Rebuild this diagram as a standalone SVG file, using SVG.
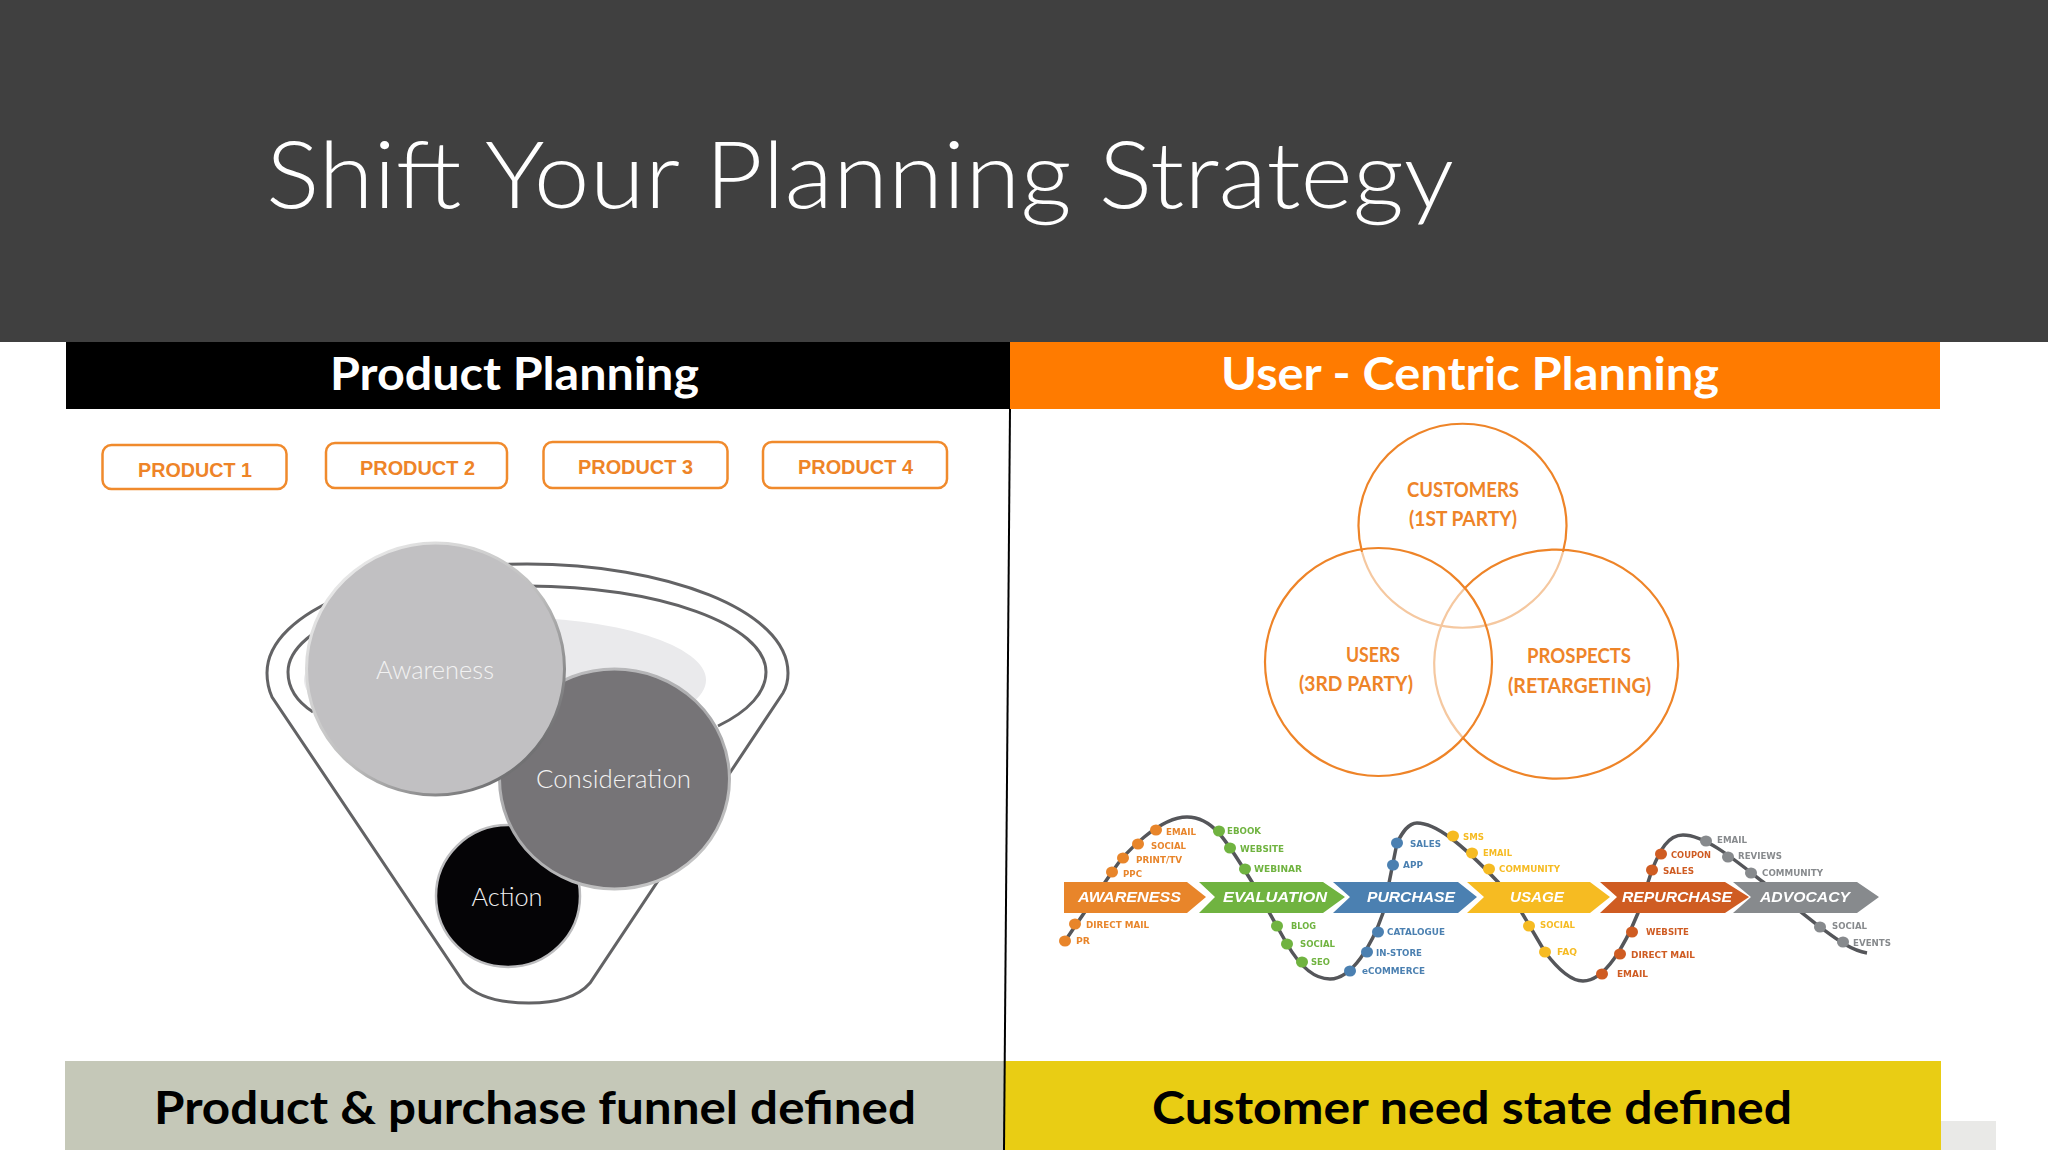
<svg xmlns="http://www.w3.org/2000/svg" width="2048" height="1152" viewBox="0 0 2048 1152">
<style>
text{font-family:"Lato","Liberation Sans",sans-serif}
.h{font-weight:700;font-size:46px;fill:#fff}
.b{font-weight:700;font-size:46px;fill:#000}
.p{font-family:"Liberation Sans",Arial,sans-serif;font-weight:700;font-size:20px;fill:#ee8428}
.btn{fill:#fff;stroke:#f08a2c;stroke-width:2.5}
.v{font-weight:700;font-size:21px;fill:#ee8428}
.vs{fill:none;stroke:#ee8428;stroke-width:2.2}
.vp{fill:none;stroke:#f5c8a0;stroke-width:2.2}
.f{fill:none;stroke:#636365;stroke-width:3}
.c{font-weight:300;fill:#f2f2f2}
.a{font-family:"Liberation Sans",Arial,sans-serif;font-weight:700;font-style:italic;font-size:15px;fill:#fff}
.l{font-family:"DejaVu Sans",sans-serif;font-weight:700;font-size:8.5px}
.or{fill:#e8852c}.gr{fill:#6fb33f}.bl{fill:#4b80b1}.ye{fill:#f6bb24}.rd{fill:#cf5b23}.gy{fill:#878a8d}
</style>
<defs>
<linearGradient id="edge" x1="0.15" y1="0.1" x2="0.9" y2="0.9"><stop offset="0" stop-color="#e8e8e8"/><stop offset="0.55" stop-color="#bbbbbb"/><stop offset="1" stop-color="#666668"/></linearGradient>
<linearGradient id="edge2" x1="0.2" y1="0" x2="0.8" y2="1"><stop offset="0" stop-color="#bdbdbf"/><stop offset="0.5" stop-color="#a9a9ab"/><stop offset="1" stop-color="#c8c8c8"/></linearGradient>
<filter id="soft" x="-5%" y="-5%" width="110%" height="110%"><feGaussianBlur stdDeviation="0.45"/></filter>
</defs>
<rect width="2048" height="1152" fill="#fff"/>
<g id="title-band"><rect width="2048" height="342" fill="#404040"/>
<text x="266" y="208" font-size="92" font-weight="300" fill="#fff" textLength="1188" lengthAdjust="spacingAndGlyphs">Shift Your Planning Strategy</text></g>
<g id="header-product"><rect x="66" y="342" width="944" height="67" fill="#000"/><text class="h" x="330" y="390" textLength="369" lengthAdjust="spacingAndGlyphs">Product Planning</text></g>
<g id="header-user"><rect x="1010" y="342" width="930" height="67" fill="#ff7b00"/><text class="h" x="1221" y="390" textLength="498" lengthAdjust="spacingAndGlyphs">User - Centric Planning</text></g>
<rect x="1940" y="1121" width="56" height="29" fill="#e9e9e7"/>
<g id="footer-product"><rect x="65" y="1061" width="939" height="89" fill="#c5c8b8"/><text class="b" x="154" y="1124" textLength="762" lengthAdjust="spacingAndGlyphs">Product &amp; purchase funnel defined</text></g>
<g id="footer-user"><rect x="1004" y="1061" width="937" height="89" fill="#e9cd14"/><text class="b" x="1152" y="1124" textLength="640" lengthAdjust="spacingAndGlyphs">Customer need state defined</text></g>
<g id="product-1"><rect class="btn" x="102.500" y="445" width="184" height="44" rx="9"/><text class="p" x="138" y="477" textLength="114" lengthAdjust="spacingAndGlyphs">PRODUCT 1</text></g>
<g id="product-2"><rect class="btn" x="326" y="443" width="181" height="45" rx="9"/><text class="p" x="360" y="475" textLength="115" lengthAdjust="spacingAndGlyphs">PRODUCT 2</text></g>
<g id="product-3"><rect class="btn" x="543.500" y="442" width="184" height="46" rx="9"/><text class="p" x="578" y="474" textLength="115" lengthAdjust="spacingAndGlyphs">PRODUCT 3</text></g>
<g id="product-4"><rect class="btn" x="763" y="442" width="184" height="46" rx="9"/><text class="p" x="798" y="474" textLength="115" lengthAdjust="spacingAndGlyphs">PRODUCT 4</text></g>
<g id="funnel">
<ellipse cx="505" cy="680" rx="201" ry="63" fill="#eaeaec"/>
<path class="f" d="M313 712C296 701 288 687 288 672C288 625 395 586 527 586C659 586 766 625 766 672C766 692 749 711 718 726"/>
<path class="f" d="M272 697C268 688 267 680 267 673C267 610 390 564 527 564C665 564 788 610 788 673C788 680 786 688 783 693L590 983C577 998 553 1003 529 1003C503 1003 478 998 464 983Z"/>
</g>
<g id="action"><ellipse cx="508" cy="896" rx="72" ry="71" fill="#050406" stroke="#bdbdbf" stroke-width="2.500"/><text class="c" x="471.500" y="906" font-size="26" textLength="71" lengthAdjust="spacingAndGlyphs">Action</text></g>
<g id="consideration"><ellipse cx="614.500" cy="779" rx="115" ry="110" fill="#767477" stroke="url(#edge2)" stroke-width="3"/><text class="c" x="536" y="788" font-size="26" textLength="155" lengthAdjust="spacingAndGlyphs">Consideration</text></g>
<g id="awareness"><ellipse cx="435.500" cy="669" rx="129" ry="126" fill="#c1c0c2" stroke="url(#edge)" stroke-width="3"/><text class="c" x="376" y="679" font-size="25" textLength="118" lengthAdjust="spacingAndGlyphs">Awareness</text></g>
<g id="venn-customers"><path class="vs" d="M1362 552A104 102 0 1 1 1563 552"/><path class="vp" d="M1362 552A104 102 0 0 0 1563 552"/><text class="v" x="1407" y="497" textLength="112" lengthAdjust="spacingAndGlyphs">CUSTOMERS</text><text class="v" x="1409" y="526" textLength="108" lengthAdjust="spacingAndGlyphs">(1ST PARTY)</text></g>
<g id="venn-prospects"><path class="vs" d="M1465 588A122 114.500 0 1 1 1463 738"/><path class="vp" d="M1465 588A122 114.500 0 0 0 1463 738"/><text class="v" x="1527" y="663" textLength="104" lengthAdjust="spacingAndGlyphs">PROSPECTS</text><text class="v" x="1508" y="693" textLength="143" lengthAdjust="spacingAndGlyphs">(RETARGETING)</text></g>
<g id="venn-users"><ellipse class="vs" cx="1378.500" cy="662" rx="113.500" ry="114"/><text class="v" x="1346" y="662" textLength="54" lengthAdjust="spacingAndGlyphs">USERS</text><text class="v" x="1299" y="691" textLength="114" lengthAdjust="spacingAndGlyphs">(3RD PARTY)</text></g>
<g id="connectors" fill="none">
<path stroke="#000" stroke-width="2" d="M1010 409L1004 1150"/>
<path filter="url(#soft)" stroke="#54565a" stroke-width="3.500" d="M1065 941L1112 872C1125 852 1160 817 1187 817C1212 817 1225 838 1252 882L1287 944C1298 963 1312 979 1330 979C1352 979 1372 945 1383 913L1397 843C1402 833 1408 823 1417 823C1435 823 1460 842 1498 882L1522 913L1545 952C1557 968 1570 981 1583 981C1605 981 1625 945 1638 913L1652 870C1660 850 1668 835 1683 835C1705 835 1735 860 1763 882L1820 927C1835 938 1850 950 1867 953"/>
</g>
<g id="journey" filter="url(#soft)">
<g id="stage-awareness" class="or"><polygon points="1064,882 1187,882 1206,897 1187,913 1064,913"/><text class="a" x="1078" y="902" textLength="103" lengthAdjust="spacingAndGlyphs">AWARENESS</text>
<ellipse cx="1065" cy="941" rx="6" ry="5.500"/><ellipse cx="1075" cy="924" rx="6" ry="5.500"/><ellipse cx="1112" cy="872" rx="6" ry="5.500"/><ellipse cx="1123" cy="858" rx="6" ry="5.500"/><ellipse cx="1138" cy="844" rx="6" ry="5.500"/><ellipse cx="1156" cy="830" rx="6" ry="5.500"/>
<text class="l" x="1166" y="835" textLength="30" lengthAdjust="spacingAndGlyphs">EMAIL</text><text class="l" x="1151" y="849" textLength="35" lengthAdjust="spacingAndGlyphs">SOCIAL</text><text class="l" x="1136" y="863" textLength="46" lengthAdjust="spacingAndGlyphs">PRINT/TV</text><text class="l" x="1123" y="877" textLength="19" lengthAdjust="spacingAndGlyphs">PPC</text><text class="l" x="1086" y="928" textLength="63" lengthAdjust="spacingAndGlyphs">DIRECT MAIL</text><text class="l" x="1076" y="944" textLength="14" lengthAdjust="spacingAndGlyphs">PR</text></g>
<g id="stage-evaluation" class="gr"><polygon points="1199,882 1323,882 1345,897 1323,913 1199,913 1215,897"/><text class="a" x="1223" y="902" textLength="104" lengthAdjust="spacingAndGlyphs">EVALUATION</text>
<ellipse cx="1219" cy="831" rx="6" ry="5.500"/><ellipse cx="1230" cy="848" rx="6" ry="5.500"/><ellipse cx="1245" cy="869" rx="6" ry="5.500"/><ellipse cx="1277" cy="926" rx="6" ry="5.500"/><ellipse cx="1287" cy="944" rx="6" ry="5.500"/><ellipse cx="1302" cy="962" rx="6" ry="5.500"/>
<text class="l" x="1227" y="834" textLength="34" lengthAdjust="spacingAndGlyphs">EBOOK</text><text class="l" x="1240" y="852" textLength="44" lengthAdjust="spacingAndGlyphs">WEBSITE</text><text class="l" x="1254" y="872" textLength="48" lengthAdjust="spacingAndGlyphs">WEBINAR</text><text class="l" x="1291" y="929" textLength="25" lengthAdjust="spacingAndGlyphs">BLOG</text><text class="l" x="1300" y="947" textLength="35" lengthAdjust="spacingAndGlyphs">SOCIAL</text><text class="l" x="1311" y="965" textLength="19" lengthAdjust="spacingAndGlyphs">SEO</text></g>
<g id="stage-purchase" class="bl"><polygon points="1333,882 1458,882 1477,897 1458,913 1333,913 1350,897"/><text class="a" x="1367" y="902" textLength="88" lengthAdjust="spacingAndGlyphs">PURCHASE</text>
<ellipse cx="1397" cy="843" rx="6" ry="5.500"/><ellipse cx="1393" cy="865" rx="6" ry="5.500"/><ellipse cx="1378" cy="932" rx="6" ry="5.500"/><ellipse cx="1367" cy="952" rx="6" ry="5.500"/><ellipse cx="1350" cy="971" rx="6" ry="5.500"/>
<text class="l" x="1410" y="847" textLength="31" lengthAdjust="spacingAndGlyphs">SALES</text><text class="l" x="1403" y="868" textLength="20" lengthAdjust="spacingAndGlyphs">APP</text><text class="l" x="1387" y="935" textLength="58" lengthAdjust="spacingAndGlyphs">CATALOGUE</text><text class="l" x="1376" y="956" textLength="46" lengthAdjust="spacingAndGlyphs">IN-STORE</text><text class="l" x="1362" y="974" textLength="63" lengthAdjust="spacingAndGlyphs">eCOMMERCE</text></g>
<g id="stage-usage" class="ye"><polygon points="1467,882 1590,882 1610,897 1590,913 1467,913 1484,897"/><text class="a" x="1510" y="902" textLength="54" lengthAdjust="spacingAndGlyphs">USAGE</text>
<ellipse cx="1453" cy="836" rx="6" ry="5.500"/><ellipse cx="1472" cy="853" rx="6" ry="5.500"/><ellipse cx="1489" cy="869" rx="6" ry="5.500"/><ellipse cx="1529" cy="926" rx="6" ry="5.500"/><ellipse cx="1545" cy="952" rx="6" ry="5.500"/>
<text class="l" x="1463" y="840" textLength="21" lengthAdjust="spacingAndGlyphs">SMS</text><text class="l" x="1483" y="856" textLength="29" lengthAdjust="spacingAndGlyphs">EMAIL</text><text class="l" x="1499" y="872" textLength="61" lengthAdjust="spacingAndGlyphs">COMMUNITY</text><text class="l" x="1540" y="928" textLength="35" lengthAdjust="spacingAndGlyphs">SOCIAL</text><text class="l" x="1557" y="955" textLength="20" lengthAdjust="spacingAndGlyphs">FAQ</text></g>
<g id="stage-repurchase" class="rd"><polygon points="1600,882 1725,882 1749,897 1725,913 1600,913 1617,897"/><text class="a" x="1622" y="902" textLength="110" lengthAdjust="spacingAndGlyphs">REPURCHASE</text>
<ellipse cx="1661" cy="854" rx="6" ry="5.500"/><ellipse cx="1652" cy="870" rx="6" ry="5.500"/><ellipse cx="1632" cy="932" rx="6" ry="5.500"/><ellipse cx="1620" cy="954" rx="6" ry="5.500"/><ellipse cx="1602" cy="974" rx="6" ry="5.500"/>
<text class="l" x="1671" y="858" textLength="40" lengthAdjust="spacingAndGlyphs">COUPON</text><text class="l" x="1663" y="874" textLength="31" lengthAdjust="spacingAndGlyphs">SALES</text><text class="l" x="1646" y="935" textLength="43" lengthAdjust="spacingAndGlyphs">WEBSITE</text><text class="l" x="1631" y="958" textLength="64" lengthAdjust="spacingAndGlyphs">DIRECT MAIL</text><text class="l" x="1617" y="977" textLength="31" lengthAdjust="spacingAndGlyphs">EMAIL</text></g>
<g id="stage-advocacy" class="gy"><polygon points="1733,882 1857,882 1879,897 1857,913 1733,913 1751,897"/><text class="a" x="1760" y="902" textLength="90" lengthAdjust="spacingAndGlyphs">ADVOCACY</text>
<ellipse cx="1706" cy="841" rx="6" ry="5.500"/><ellipse cx="1728" cy="857" rx="6" ry="5.500"/><ellipse cx="1751" cy="873" rx="6" ry="5.500"/><ellipse cx="1820" cy="927" rx="6" ry="5.500"/><ellipse cx="1843" cy="942" rx="6" ry="5.500"/>
<text class="l" x="1717" y="843" textLength="30" lengthAdjust="spacingAndGlyphs">EMAIL</text><text class="l" x="1738" y="859" textLength="44" lengthAdjust="spacingAndGlyphs">REVIEWS</text><text class="l" x="1762" y="876" textLength="61" lengthAdjust="spacingAndGlyphs">COMMUNITY</text><text class="l" x="1832" y="929" textLength="35" lengthAdjust="spacingAndGlyphs">SOCIAL</text><text class="l" x="1853" y="946" textLength="38" lengthAdjust="spacingAndGlyphs">EVENTS</text></g>
</g>
</svg>
